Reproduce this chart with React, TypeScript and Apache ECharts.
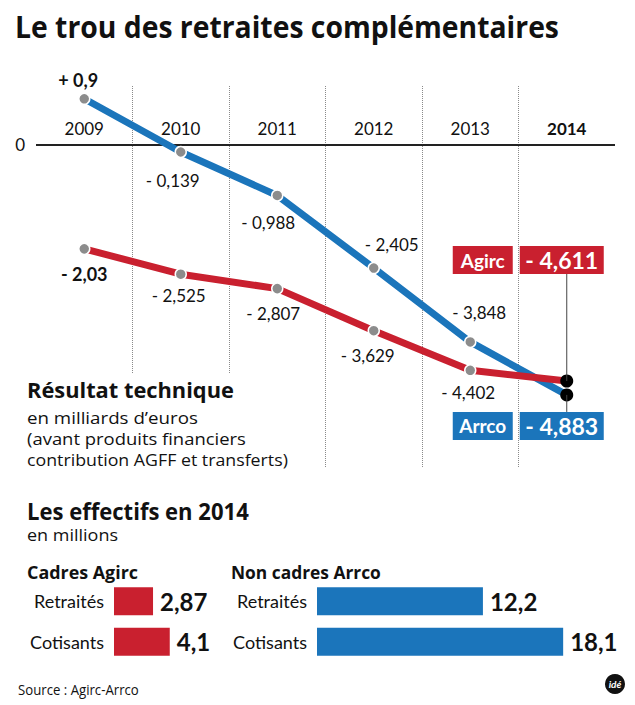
import React, { useEffect, useRef } from 'react';
import * as echarts from 'echarts';

// ---- data ----
const years = ['2009', '2010', '2011', '2012', '2013', '2014'];
const arrcoValues = [0.9, -0.139, -0.988, -2.405, -3.848, -4.883];
const agircValues = [-2.03, -2.525, -2.807, -3.629, -4.402, -4.611];

const effectifCategories = ['Retraités', 'Cotisants'];
const agircEffectifs = [2.87, 4.1];
const arrcoEffectifs = [12.2, 18.1];

// ---- layout / style ----
const BLUE = '#1b75bb';
const RED = '#c9202f';
const INK = '#111111';
const FONT = 'Lato, "Open Sans", sans-serif';
const HEAD_FONT = '"Open Sans", Lato, sans-serif';

const arrcoLabelOffsets: (number[] | null)[] = [[-6, -19], [-8, 28], [-9, 27], [18, -24], [9, -29], null];
const agircLabelOffsets: (number[] | null)[] = [[0, 25], [-2, 21], [-4, 25], [-6, 25], [-2, 22], null];

function fmtSigned(v: number) {
  const s = Math.abs(v).toString().replace('.', ',');
  return (v >= 0 ? '+ ' : '- ') + s;
}
function fmt(v: number) {
  return v.toString().replace('.', ',');
}

let measureCtx: CanvasRenderingContext2D | null = null;
function measure(t: string, size: number, bold: boolean, family: string) {
  if (!measureCtx) measureCtx = document.createElement('canvas').getContext('2d');
  if (!measureCtx) return 0;
  measureCtx.font = `${bold ? 'bold ' : ''}${size}px ${family}`;
  return measureCtx.measureText(t).width;
}

function lineData(values: number[], offsets: (number[] | null)[]) {
  return values.map((v, i) => {
    const last = i === values.length - 1;
    const off = offsets[i];
    return {
      value: v,
      symbolSize: last ? 13 : 11,
      itemStyle: last ? { color: '#000', borderWidth: 0 } : undefined,
      label: off
        ? {
            show: true,
            position: 'inside',
            offset: off,
            formatter: () => fmtSigned(v),
            fontWeight: i === 0 ? 'bold' : 'normal',
            fontSize: i === 0 ? 18 : 17,
            color: INK,
            fontFamily: FONT,
          }
        : { show: false },
    };
  });
}

function text(x: number, y: number, t: string, size: number, bold = false, extra: any = {}, fitWidth = 0) {
  const family = extra.fontFamily || HEAD_FONT;
  let scaleX = 1;
  if (fitWidth > 0) {
    const w = measure(t, size, bold, family);
    if (w > 0) scaleX = fitWidth / w;
  }
  return {
    type: 'text',
    x,
    y,
    scaleX,
    z: 100,
    silent: true,
    style: {
      text: t,
      fill: INK,
      fontSize: size,
      fontWeight: bold ? 'bold' : 'normal',
      fontFamily: family,
      align: 'left',
      verticalAlign: 'middle',
      ...extra,
    },
  };
}

function buildGraphics(x14: number, yA: number, yB: number) {
  const boxH = 28;
  const labW = 60;
  const numW = 84;
  const labX = x14 - 114;
  const numX = x14 - 47;
  const topBoxY = yA - 135;
  const botBoxY = yB + 17;
  const white = { fill: '#fff', align: 'center', fontFamily: FONT };
  const boxes = [
    { type: 'line', z: 90, silent: true, shape: { x1: x14, y1: topBoxY + boxH, x2: x14, y2: yA }, style: { stroke: '#444', lineWidth: 1 } },
    { type: 'line', z: 90, silent: true, shape: { x1: x14, y1: yB, x2: x14, y2: botBoxY }, style: { stroke: '#444', lineWidth: 1 } },
    { type: 'rect', z: 95, silent: true, shape: { x: labX, y: topBoxY, width: labW, height: boxH }, style: { fill: RED } },
    { type: 'rect', z: 95, silent: true, shape: { x: numX, y: topBoxY, width: numW, height: boxH }, style: { fill: RED } },
    { type: 'rect', z: 95, silent: true, shape: { x: labX, y: botBoxY, width: labW, height: boxH }, style: { fill: BLUE } },
    { type: 'rect', z: 95, silent: true, shape: { x: numX, y: botBoxY, width: numW, height: boxH }, style: { fill: BLUE } },
    text(labX + labW / 2, topBoxY + boxH / 2, 'Agirc', 19, true, white),
    text(numX + numW / 2, topBoxY + boxH / 2, fmtSigned(agircValues[5]), 23, true, white),
    text(labX + labW / 2, botBoxY + boxH / 2, 'Arrco', 19, true, white),
    text(numX + numW / 2, botBoxY + boxH / 2, fmtSigned(arrcoValues[5]), 23, true, white),
  ];
  return [
    text(15, 26, 'Le trou des retraites complémentaires', 31, true, {}, 544),
    { type: 'rect', z: 50, silent: true, shape: { x: 18, y: 373, width: 284, height: 99 }, style: { fill: '#fff' } },
    text(27, 390, 'Résultat technique', 21, true, {}, 207),
    text(27, 417, 'en milliards d’euros', 17, false, {}, 171),
    text(27, 438, '(avant produits financiers', 17, false, {}, 219),
    text(27, 459, 'contribution AGFF et transferts)', 17, false, {}, 261),
    text(27, 511, 'Les effectifs en 2014', 23, true, {}, 222),
    text(27, 535, 'en millions', 16, false, {}, 91),
    text(27, 572, 'Cadres Agirc', 18, true, {}, 111),
    text(231, 572, 'Non cadres Arrco', 18, true, {}, 150),
    text(18, 689, 'Source : Agirc-Arrco', 15, false, {}, 121),
    { type: 'circle', z: 100, silent: true, shape: { cx: 615, cy: 684, r: 10 }, style: { fill: '#111' } },
    text(615, 684, 'idé', 10, true, { fill: '#fff', align: 'center', fontStyle: 'italic', fontFamily: FONT }),
    ...boxes,
  ];
}

function buildOption() {
  const valueLabel = {
    show: true,
    position: 'right',
    distance: 7,
    fontSize: 24,
    fontWeight: 'bold',
    color: INK,
    fontFamily: FONT,
    formatter: (p: any) => fmt(p.value),
  };
  const catAxis = (gridIndex: number) => ({
    type: 'category',
    gridIndex,
    data: effectifCategories,
    inverse: true,
    axisLine: { show: false },
    axisTick: { show: false },
    splitLine: { show: false },
    axisLabel: { margin: 10, fontSize: 18, color: INK, fontFamily: FONT },
  });
  return {
    animation: false,
    backgroundColor: '#ffffff',
    textStyle: { fontFamily: FONT },
    grid: [
      { left: 36, right: 20, top: 86, height: 382 },
      { left: 114, top: 581, width: 100, height: 81 },
      { left: 317, top: 581, width: 299, height: 81 },
    ],
    xAxis: [
      {
        type: 'category',
        gridIndex: 0,
        data: years,
        position: 'top',
        boundaryGap: true,
        axisLine: { show: false, onZero: false },
        axisTick: { show: false },
        axisLabel: {
          inside: true,
          margin: 34,
          fontSize: 17,
          color: INK,
          fontFamily: FONT,
          formatter: (v: string) => (v === years[years.length - 1] ? '{b|' + v + '}' : v),
          rich: { b: { fontWeight: 'bold', fontSize: 17, color: INK, fontFamily: FONT } },
        },
        splitLine: {
          show: true,
          showMinLine: false,
          showMaxLine: false,
          lineStyle: { color: '#8a8a8a', type: 'dotted', width: 1 },
        },
      },
      { type: 'value', gridIndex: 1, min: 0, max: 7.353, show: false },
      { type: 'value', gridIndex: 2, min: 0, max: 21.985, show: false },
    ],
    yAxis: [
      {
        type: 'value',
        gridIndex: 0,
        min: -6.31,
        max: 1.15,
        axisLine: { show: false },
        axisTick: { show: false },
        splitLine: { show: false },
        axisLabel: {
          customValues: [0],
          margin: 11,
          fontSize: 17,
          color: INK,
          fontFamily: FONT,
          formatter: (v: number) => (v === 0 ? '0' : ''),
        },
      },
      catAxis(1),
      catAxis(2),
    ],
    series: [
      {
        type: 'line',
        name: 'Arrco',
        xAxisIndex: 0,
        yAxisIndex: 0,
        data: lineData(arrcoValues, arrcoLabelOffsets),
        symbol: 'circle',
        lineStyle: { color: BLUE, width: 7 },
        itemStyle: { color: '#8c8c8c', borderColor: '#fff', borderWidth: 1.5 },
        z: 3,
        silent: true,
        markLine: {
          silent: true,
          z: 1,
          symbol: ['none', 'none'],
          label: { show: false },
          lineStyle: { color: '#222', width: 2, type: 'solid' },
          emphasis: { disabled: true },
          data: [{ yAxis: 0 }],
        },
      },
      {
        type: 'line',
        name: 'Agirc',
        xAxisIndex: 0,
        yAxisIndex: 0,
        data: lineData(agircValues, agircLabelOffsets),
        symbol: 'circle',
        lineStyle: { color: RED, width: 7 },
        itemStyle: { color: '#8c8c8c', borderColor: '#fff', borderWidth: 1.5 },
        z: 4,
        silent: true,
      },
      {
        type: 'bar',
        name: 'Cadres Agirc',
        xAxisIndex: 1,
        yAxisIndex: 1,
        data: agircEffectifs,
        barWidth: 28,
        itemStyle: { color: RED },
        label: valueLabel,
        silent: true,
      },
      {
        type: 'bar',
        name: 'Non cadres Arrco',
        xAxisIndex: 2,
        yAxisIndex: 2,
        data: arrcoEffectifs,
        barWidth: 28,
        itemStyle: { color: BLUE },
        label: valueLabel,
        silent: true,
      },
    ],
  };
}

export default function App() {
  const ref = useRef<HTMLDivElement>(null);
  useEffect(() => {
    if (!ref.current) return;
    const chart = echarts.init(ref.current, null, { renderer: 'svg' });
    chart.setOption(buildOption() as any);
    const p1 = chart.convertToPixel({ gridIndex: 0 } as any, [years[5], agircValues[5]]) as number[];
    const p2 = chart.convertToPixel({ gridIndex: 0 } as any, [years[5], arrcoValues[5]]) as number[];
    chart.setOption({ graphic: buildGraphics(p1[0], p1[1], p2[1]) } as any);
    return () => chart.dispose();
  }, []);
  return <div ref={ref} style={{ position: 'absolute', left: 0, top: 0, width: 635, height: 705 }} />;
}
